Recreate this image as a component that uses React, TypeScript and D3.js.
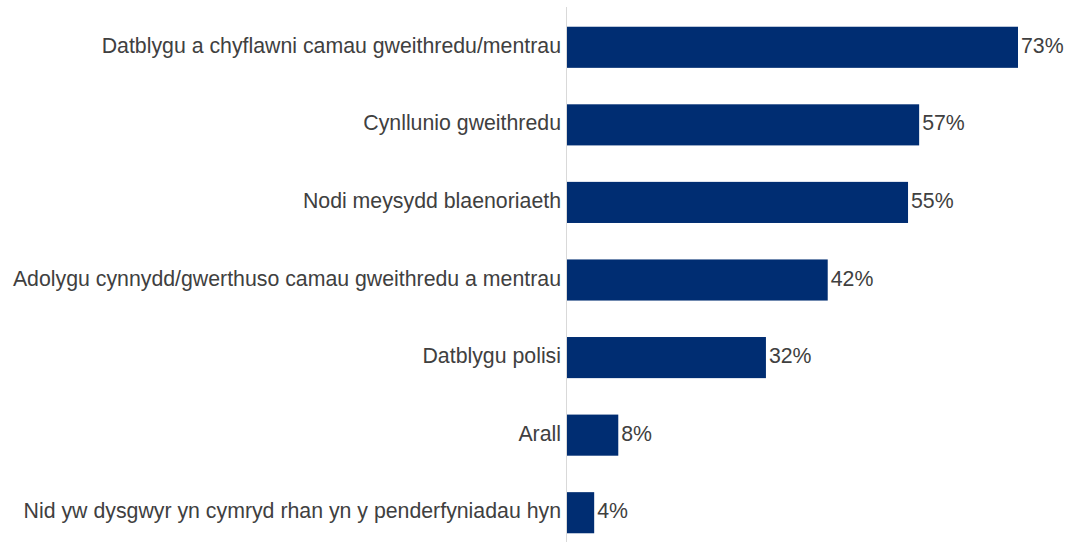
import React from "react";
import * as d3 from "d3";

const categories = [
  "Datblygu a chyflawni camau gweithredu/mentrau",
  "Cynllunio gweithredu",
  "Nodi meysydd blaenoriaeth",
  "Adolygu cynnydd/gwerthuso camau gweithredu a mentrau",
  "Datblygu polisi",
  "Arall",
  "Nid yw dysgwyr yn cymryd rhan yn y penderfyniadau hyn",
];
const values = [73, 57, 55.2, 42.2, 32.2, 8.3, 4.4];
const valueLabels = ["73%", "57%", "55%", "42%", "32%", "8%", "4%"];

const width = 1068;
const height = 542;
const axisX = 567;
const fontSize = 21.3;

const App = () => {
  const xScale = d3.scaleLinear().domain([0, 73]).range([axisX, 1018]);
  const yScale = d3
    .scaleBand<number>()
    .domain(d3.range(categories.length))
    .range([8.5, 551.5])
    .paddingInner(0.47)
    .paddingOuter(0.235);

  return (
    <svg
      width={width}
      height={height}
      style={{ position: "absolute", left: 0, top: 0 }}
      fontFamily="'Liberation Sans', Arial, sans-serif"
    >
      <rect width={width} height={height} fill="#fff" />
      <line stroke="#d9d9d9" x1={axisX - 0.5} x2={axisX - 0.5} y1={7} y2={height} />
      {values.map((v, i) => {
        const y = yScale(i) as number;
        const h = yScale.bandwidth();
        return (
          <g key={i}>
            <rect fill="#002d72" x={xScale(0)} y={y} width={xScale(v) - xScale(0)} height={h} />
            <text
              x={axisX - 6}
              y={y + h / 2 + 5.5}
              textAnchor="end"
              fill="#404040"
              fontSize={fontSize}
            >
              {categories[i]}
            </text>
            <text x={xScale(v) + 3} y={y + h / 2 + 5.5} fill="#404040" fontSize={fontSize}>
              {valueLabels[i]}
            </text>
          </g>
        );
      })}
    </svg>
  );
};

export default App;
